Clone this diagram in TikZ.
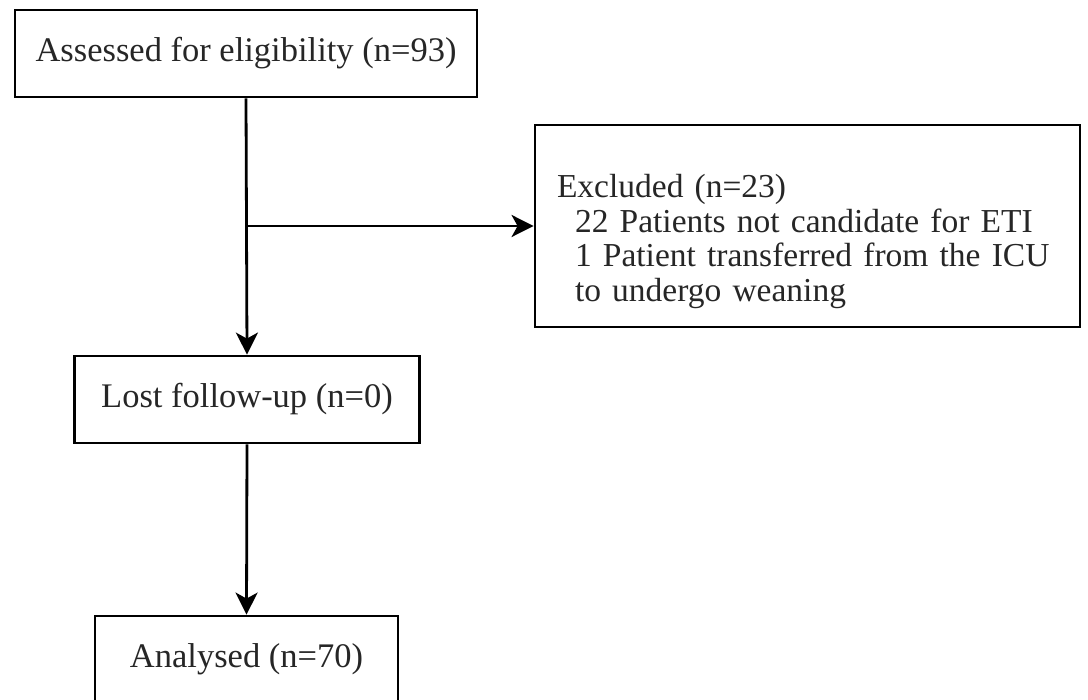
\documentclass[tikz,border=0pt]{standalone}
\usepackage{fontspec}
\setmainfont{Liberation Serif}
\usetikzlibrary{arrows.meta}
\begin{document}
\begin{tikzpicture}[x=1pt,y=-1pt,
  box/.style={draw, line width=2.8pt, rectangle, inner sep=0pt, text=black!85,
    font=\fontsize{34.5}{33.5}\selectfont},
  arr/.style={line width=2.8pt, -{Stealth[length=22pt,width=22pt,inset=6pt]}}]
\useasboundingbox (0,0) rectangle (1088,700);
\node[box, minimum width=462pt, minimum height=87pt] (assessed) at (246,53.5) {Assessed for eligibility (n=93)};
\node[box, minimum height=202pt, inner xsep=22pt, text width=501pt, align=left,
  font=\fontsize{33.5}{34.5}\selectfont] (excluded) at (807.5,226)
  {\mbox{\rule{0pt}{54pt}Excluded (n=23)}\\\mbox{\hspace*{18pt}22 Patients not candidate for ETI}\\\mbox{\hspace*{18pt}1 Patient transferred from the ICU}\\\mbox{\hspace*{18pt}to undergo weaning}};
\node[box, minimum width=345pt, minimum height=87pt] (lost) at (247,399.5) {Lost follow-up (n=0)};
\node[box, minimum width=303pt, minimum height=87pt] (analysed) at (246.5,659.5) {Analysed (n=70)};
\coordinate (branch) at (assessed.south |- excluded.west);
\draw[arr] (assessed.south) -- (lost.north);
\draw[arr] (branch) -- (excluded.west);
\draw[arr] (lost.south) -- (analysed.north);
\end{tikzpicture}
\end{document}
